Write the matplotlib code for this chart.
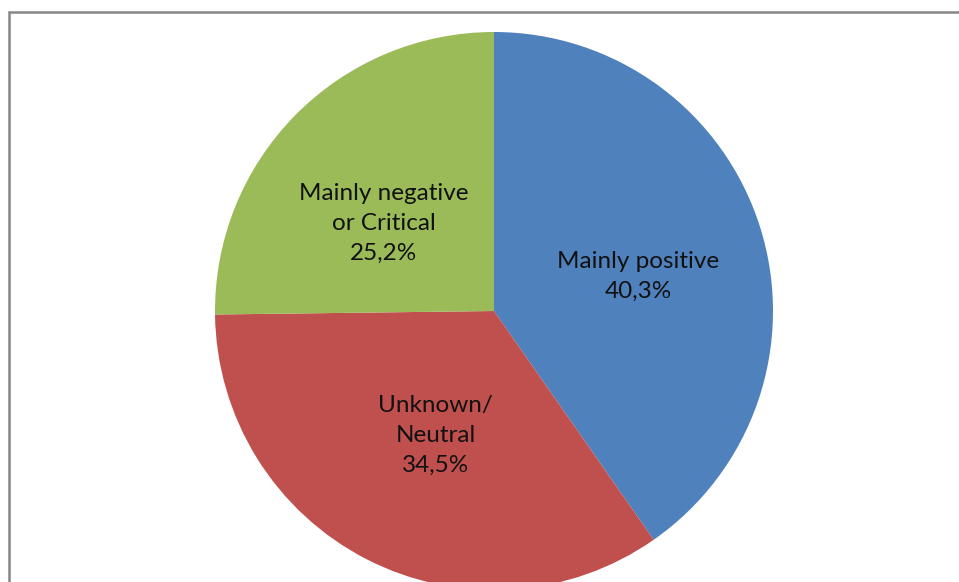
import matplotlib.pyplot as plt
from matplotlib.patches import Rectangle

# values (percent)
categories = ['Mainly positive', 'Unknown/\nNeutral', 'Mainly negative\nor Critical']
shares = [40.3, 34.5, 25.2]
colors = ['#4F81BD', '#C0504D', '#9BBB59']

labels = [f"{c}\n{v:.1f}%".replace('.', ',') for c, v in zip(categories, shares)]

W, H = 959, 582
fig = plt.figure(figsize=(W / 100, H / 100), dpi=100)

# pie centre and radius in pixels
cx, cy, r = 494, 311, 279
ax = fig.add_axes([(cx - r) / W, (H - cy - r) / H, 2 * r / W, 2 * r / H])

wedges, texts = ax.pie(shares, labels=labels, colors=colors, startangle=90,
                       counterclock=False, labeldistance=0.5,
                       wedgeprops=dict(linewidth=0),
                       textprops=dict(ha='center', va='center', fontsize=17.5,
                                      family='Lato', color='#111111',
                                      linespacing=1.52))
ax.set_xlim(-1, 1)
ax.set_ylim(-1, 1)
ax.set_aspect('equal')

# nudge labels to where Excel put them
offsets = [(0.04, -0.027), (0.02, 0.0), (-0.04, -0.037)]
for t, (dx, dy) in zip(texts, offsets):
    x, y = t.get_position()
    t.set_position((x + dx, y + dy))

# chart border (only left and top visible)
fig.patches.append(Rectangle((9 / W, -0.1), 1.2, (H - 11.5) / H + 0.1,
                             transform=fig.transFigure, fill=False,
                             edgecolor='#868686', linewidth=1.8))

fig.savefig('out.png', dpi=100)
